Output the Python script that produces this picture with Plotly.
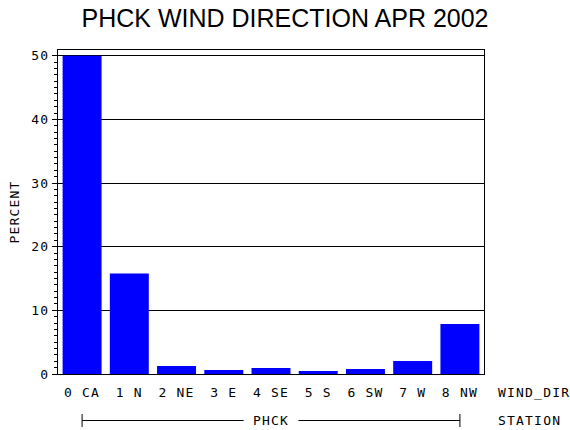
import plotly.graph_objects as go

# PHCK wind direction, April 2002 (percent of observations)
dir_codes = [0, 1, 2, 3, 4, 5, 6, 7, 8]
dir_labels = ["0 CA", "1 N", "2 NE", "3 E", "4 SE", "5 S", "6 SW", "7 W", "8 NW"]
percent = [50.0, 15.8, 1.26, 0.63, 0.94, 0.47, 0.79, 2.04, 7.86]
station = "PHCK"

mono = "DejaVu Sans Mono"
xr = [-0.51, 8.51]


def spaced(s):
    # SAS device font has wide letter spacing
    return '<span style="letter-spacing:1.2px">' + s + '</span>'


def xdom(v):
    # category position -> fraction of x domain (shapes in domain refs are not clipped)
    return (v - xr[0]) / (xr[1] - xr[0])


fig = go.Figure()
fig.add_trace(go.Bar(
    x=dir_codes,
    y=percent,
    width=0.825,
    marker=dict(color="#0000ff", line=dict(width=0)),
))

# station group line under the category labels
gy = -0.1435
line_style = dict(color="black", width=1)
x_first, x_last = dir_codes[0], dir_codes[-1]
x_mid = (x_first + x_last) / 2
fig.add_shape(type="line", xref="x domain", yref="paper", x0=xdom(x_first), x1=xdom(x_mid - 0.58),
              y0=gy, y1=gy, line=line_style)
fig.add_shape(type="line", xref="x domain", yref="paper", x0=xdom(x_mid + 0.58), x1=xdom(x_last),
              y0=gy, y1=gy, line=line_style)
for xv in [x_first, x_last]:
    fig.add_shape(type="line", xref="x domain", yref="paper", x0=xdom(xv), x1=xdom(xv),
                  y0=gy + 0.02, y1=gy - 0.02, line=line_style)
lab_font = dict(family=mono, size=13, color="black")
fig.add_annotation(x=x_mid, xref="x", y=gy, yref="paper", yanchor="middle", text=spaced(station),
                   showarrow=False, font=lab_font)
fig.add_annotation(x=1.029, xref="paper", y=-0.0586, yref="paper", yanchor="middle",
                   text=spaced("WIND_DIR"), showarrow=False, xanchor="left", font=lab_font)
fig.add_annotation(x=1.029, xref="paper", y=gy, yref="paper", yanchor="middle",
                   text=spaced("STATION"), showarrow=False, xanchor="left", font=lab_font)

fig.update_layout(
    width=570, height=430,
    margin=dict(l=58, r=86, t=50, b=56),
    paper_bgcolor="white", plot_bgcolor="white",
    showlegend=False,
    title=dict(text="PHCK WIND DIRECTION APR 2002", x=0.5, xanchor="center",
               y=0.977, yanchor="top",
               font=dict(family="Liberation Sans", size=25, color="black")),
    xaxis=dict(
        range=xr, tickvals=dir_codes, ticktext=[spaced(t) for t in dir_labels],
        showgrid=False, ticks="", showline=True, linecolor="black", linewidth=1, mirror=True,
        tickfont=lab_font, zeroline=False, automargin=False, ticklabelstandoff=6,
    ),
    yaxis=dict(
        range=[0, 50.9], tickvals=[0, 10, 20, 30, 40, 50],
        ticktext=[spaced(str(v)) for v in [0, 10, 20, 30, 40, 50]],
        ticks="outside", ticklen=5, tickcolor="black",
        minor=dict(dtick=1, ticks="outside", ticklen=3, tickcolor="black", showgrid=False),
        showgrid=True, gridcolor="black", gridwidth=1,
        showline=True, linecolor="black", linewidth=1, mirror=True, zeroline=False,
        tickfont=lab_font, automargin=False,
        title=dict(text=spaced("PERCENT"), font=lab_font, standoff=8),
    ),
)

# drop the browser's default page margin so the 570x430 figure fills the window
fig.write_html("out.html", config={"displayModeBar": False},
               post_script="document.body.style.margin='0';")
